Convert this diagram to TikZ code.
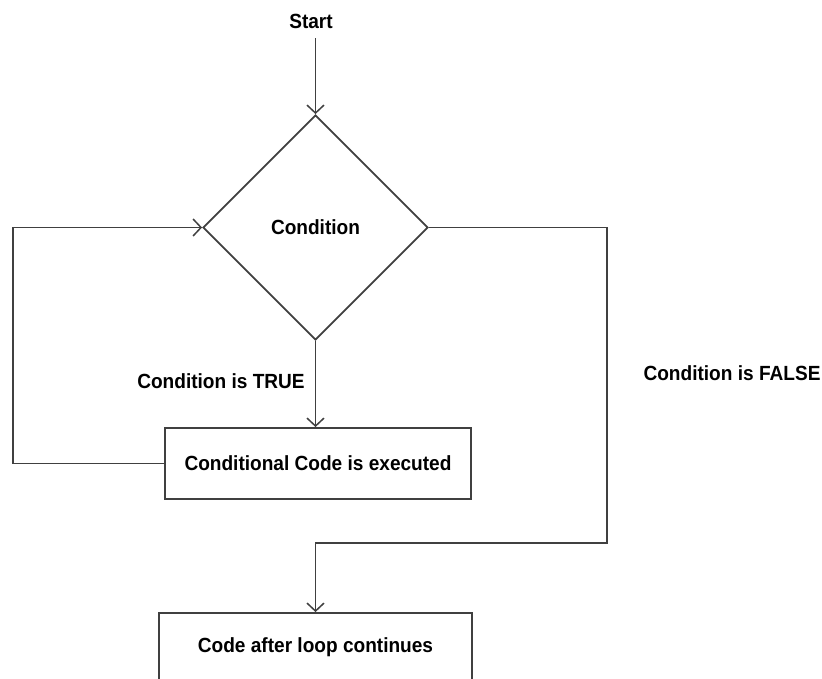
\documentclass[tikz,border=0pt]{standalone}
\usepackage{fontspec}
\setmainfont[FakeStretch=0.93]{Liberation Sans}
\usetikzlibrary{shapes.geometric,arrows.meta}

\tikzset{
  line/.style={draw=black!75, line width=1.8pt},
  arr/.style={line, -{Straight Barb[length=8pt,width=17pt,line width=1.5pt]}},
  txt/.style={font=\bfseries\fontsize{20.5}{24}\selectfont},
  lbl/.style={txt, text=black, inner sep=0pt},
  box/.style={line, rectangle, inner sep=0pt, txt},
  decision/.style={line, diamond, aspect=1, inner sep=0pt,
    minimum width=225pt, minimum height=225pt, txt}
}

\begin{document}
\begin{tikzpicture}[x=1pt, y=-1pt]
  \useasboundingbox (0,0) rectangle (822,679);

  % flowchart elements
  \node[lbl] (start) at (311,21) {Start};
  \node[decision] (cond) at (315.5,227.5) {Condition};
  \node[box, minimum width=306pt, minimum height=71pt] (code) at (318,463.5)
    {Conditional Code is executed};
  \node[box, minimum width=313pt, minimum height=68pt] (after) at (315.5,647)
    {Code after loop continues};

  % branch labels
  \node[lbl] (truelbl) at (221,381) {Condition is TRUE};
  \node[lbl] (falselbl) at (732,373) {Condition is FALSE};

  % routing points
  \coordinate (loopx) at (13,0);
  \coordinate (exitpt) at (607,543);

  % connectors
  \draw[arr] ([yshift=-10pt]start.south -| cond.north) -- (cond.north);
  \draw[arr] (cond.south) -- (cond.south |- code.north);
  \draw[arr] (code.west) -- (code.west -| loopx) |- (cond.west);
  \draw[arr] (cond.east) -| (exitpt) -| (after.north);
\end{tikzpicture}
\end{document}
